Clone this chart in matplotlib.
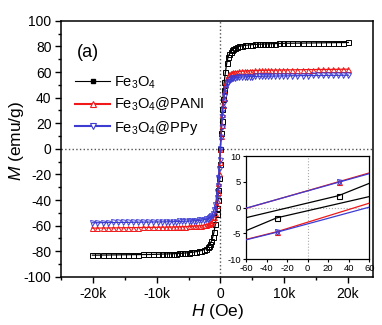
import numpy as np
import matplotlib
matplotlib.use("Agg")
import matplotlib.pyplot as plt
from matplotlib.lines import Line2D
from matplotlib.ticker import MultipleLocator

plt.rcParams['font.family'] = ['Liberation Sans', 'DejaVu Sans']
plt.rcParams['mathtext.fontset'] = 'custom'
plt.rcParams['mathtext.rm'] = 'Liberation Sans'
plt.rcParams['mathtext.it'] = 'Liberation Sans:italic'
plt.rcParams['axes.unicode_minus'] = False

# campo aplicado (Oe)
H = [-20100, -19300, -18500, -17700, -16900, -16100, -15300, -14500, -13700, -12900,
     -12100, -11300, -10500, -9800, -9200, -8600, -8000, -7500, -7000, -6500,
     -6000, -5500, -5000, -4600, -4200, -3800, -3400, -3000, -2600, -2300,
     -2000, -1800, -1600, -1400, -1200, -1000, -800, -600, -500, -400,
     -300, -200, -100, 0, 100, 200, 300, 400, 500, 600,
     800, 1000, 1200, 1400, 1600, 1800, 2000, 2300, 2600, 3000,
     3400, 3800, 4200, 4600, 5000, 5500, 6000, 6500, 7000, 7500,
     8000, 8600, 9200, 9800, 10500, 11300, 12100, 12900, 13700, 14500,
     15300, 16100, 16900, 17700, 18500, 19300, 20100]

M_fe = [-83.0, -83.0, -82.9, -82.9, -82.8, -82.8, -82.7, -82.7, -82.6, -82.6,
        -82.5, -82.5, -82.4, -82.3, -82.2, -82.1, -82.0, -81.9, -81.8, -81.7,
        -81.5, -81.3, -81.1, -80.9, -80.6, -80.3, -79.9, -79.4, -78.8, -78.0,
        -77.0, -75.8, -74.2, -72.0, -69.0, -65.0, -59.0, -51.0, -46.0, -40.0,
        -32.0, -23.0, -12.0, 0.0, 12.0, 22.0, 31.0, 39.0, 46.0, 52.0,
        60.0, 67.0, 71.5, 74.0, 75.8, 77.0, 77.9, 78.8, 79.5, 80.1,
        80.5, 80.8, 81.0, 81.2, 81.4, 81.6, 81.7, 81.8, 81.9, 82.0,
        82.1, 82.2, 82.3, 82.4, 82.5, 82.5, 82.6, 82.6, 82.7, 82.7,
        82.8, 82.8, 82.9, 82.9, 83.0, 83.0, 83.1]

M_pani = [-61.9, -61.9, -61.8, -61.8, -61.7, -61.7, -61.6, -61.6, -61.5, -61.5,
          -61.4, -61.4, -61.3, -61.3, -61.2, -61.2, -61.1, -61.0, -61.0, -60.9,
          -60.8, -60.7, -60.6, -60.5, -60.4, -60.3, -60.1, -59.9, -59.6, -59.3,
          -59.0, -58.6, -58.0, -57.0, -55.5, -53.5, -50.0, -44.0, -40.0, -34.0,
          -27.0, -19.0, -10.0, 0.0, 10.0, 19.0, 27.0, 34.0, 40.0, 45.0,
          51.0, 55.0, 57.0, 58.3, 59.0, 59.5, 59.8, 60.1, 60.3, 60.5,
          60.7, 60.8, 60.9, 61.0, 61.1, 61.2, 61.3, 61.3, 61.4, 61.4,
          61.5, 61.5, 61.6, 61.6, 61.7, 61.7, 61.8, 61.8, 61.9, 61.9,
          62.0, 62.0, 62.0, 62.1, 62.1, 62.2, 62.2]

M_ppy = [-57.7, -57.7, -57.6, -57.6, -57.5, -57.5, -57.4, -57.4, -57.3, -57.3,
         -57.2, -57.2, -57.1, -57.1, -57.0, -57.0, -56.9, -56.9, -56.8, -56.7,
         -56.6, -56.5, -56.4, -56.3, -56.2, -56.1, -55.9, -55.7, -55.4, -55.1,
         -54.8, -54.3, -53.5, -52.3, -50.5, -48.0, -44.0, -38.0, -34.0, -29.0,
         -23.0, -16.0, -8.5, 0.0, 9.0, 17.0, 24.5, 31.0, 36.5, 41.0,
         47.0, 50.5, 52.5, 53.7, 54.5, 55.0, 55.3, 55.6, 55.8, 56.0,
         56.1, 56.2, 56.3, 56.4, 56.5, 56.6, 56.6, 56.7, 56.7, 56.8,
         56.8, 56.9, 56.9, 57.0, 57.0, 57.1, 57.1, 57.2, 57.2, 57.3,
         57.3, 57.3, 57.4, 57.4, 57.4, 57.5, 57.5]

# inset: zona de campo bajo, dos ramas por muestra
h_up = [-90, 30, 150]
h_dn = [-150, -30, 90]
fe_up = [-3.4, 2.3, 11.9]
fe_dn = [-12.0, -2.0, 3.5]
pani_up = [-1.9, 5.0, 11.9]
pani_dn = [-10.7, -4.7, 2.7]
ppy_up = [-1.8, 4.9, 11.6]
ppy_dn = [-10.7, -4.8, 1.7]

labels = ['Fe$_3$O$_4$', 'Fe$_3$O$_4$@PANI', 'Fe$_3$O$_4$@PPy']
colores = ['black', '#f01818', '#3c3cd2']
marcas = ['s', '^', 'v']

fig = plt.figure(figsize=(3.82, 3.25), dpi=100)
ax = fig.add_axes([0.160, 0.148, 0.817, 0.788])

ax.axvline(0, color='#555555', ls=':', lw=1.0, zorder=1)
ax.axhline(0, color='#555555', ls=':', lw=1.0, zorder=1)

for M, c, m in zip([M_fe, M_pani, M_ppy], colores, marcas):
    ax.plot(H, M, color=c, lw=0.9, marker=m, ms=3.6, mfc='none', mec=c, mew=0.7, zorder=3)

ax.set_xlim(-25000, 24000)
ax.set_ylim(-100, 100)
ax.set_xticks([-20000, -10000, 0, 10000, 20000])
ax.set_xticklabels(['-20k', '-10k', '0', '10k', '20k'])
ax.set_yticks(np.arange(-100, 101, 20))
ax.xaxis.set_minor_locator(MultipleLocator(5000))
ax.yaxis.set_minor_locator(MultipleLocator(10))
ax.tick_params(which='both', direction='out', top=False, right=False, labelsize=10, width=1.0)
ax.tick_params(which='major', length=4, pad=3)
ax.tick_params(which='minor', length=2.5)
for s in ax.spines.values():
    s.set_linewidth(1.1)

ax.set_xlabel('$\\it{H}$ (Oe)', fontsize=12.5, labelpad=1)
ax.set_ylabel('$\\it{M}$ (emu/g)', fontsize=12.5)
ax.yaxis.set_label_coords(-0.112, 0.53)
ax.text(0.052, 0.875, '(a)', transform=ax.transAxes, fontsize=13, va='center', ha='left')

handles = [
    Line2D([], [], color='black', lw=0.8, marker='s', ms=3.5, mfc='black', mec='black'),
    Line2D([], [], color=colores[1], lw=1.5, marker='^', ms=4, mfc='white', mec=colores[1], mew=0.8),
    Line2D([], [], color=colores[2], lw=1.5, marker='v', ms=4, mfc='white', mec=colores[2], mew=0.8),
]
ax.legend(handles, labels, loc='upper left', bbox_to_anchor=(0.045, 0.79), frameon=False,
          fontsize=10.5, handlelength=2.4, handletextpad=0.25, labelspacing=0.35,
          borderpad=0, borderaxespad=0)

# inset
axi = fig.add_axes([0.644, 0.203, 0.323, 0.317])
axi.axvline(0, color='#aaaaaa', ls=':', lw=0.8, zorder=1)
axi.axhline(0, color='#aaaaaa', ls=':', lw=0.8, zorder=1)
for hu, mu, c, m in zip([h_up, h_up, h_up], [fe_up, pani_up, ppy_up], colores, marcas):
    axi.plot(hu, mu, color=c, lw=0.9, marker=m, ms=3.6, mfc='none', mec=c, mew=0.8, zorder=3)
for hd, md, c, m in zip([h_dn, h_dn, h_dn], [fe_dn, pani_dn, ppy_dn], colores, marcas):
    axi.plot(hd, md, color=c, lw=0.9, marker=m, ms=3.6, mfc='none', mec=c, mew=0.8, zorder=3)
axi.set_xlim(-60, 60)
axi.set_ylim(-10, 10)
axi.set_xticks(np.arange(-60, 61, 20))
axi.set_yticks([-10, -5, 0, 5, 10])
axi.tick_params(direction='out', labelsize=6.8, length=2.5, pad=1, width=0.8, top=False, right=False)
for s in axi.spines.values():
    s.set_linewidth(0.9)

fig.savefig('out.png', dpi=100)
